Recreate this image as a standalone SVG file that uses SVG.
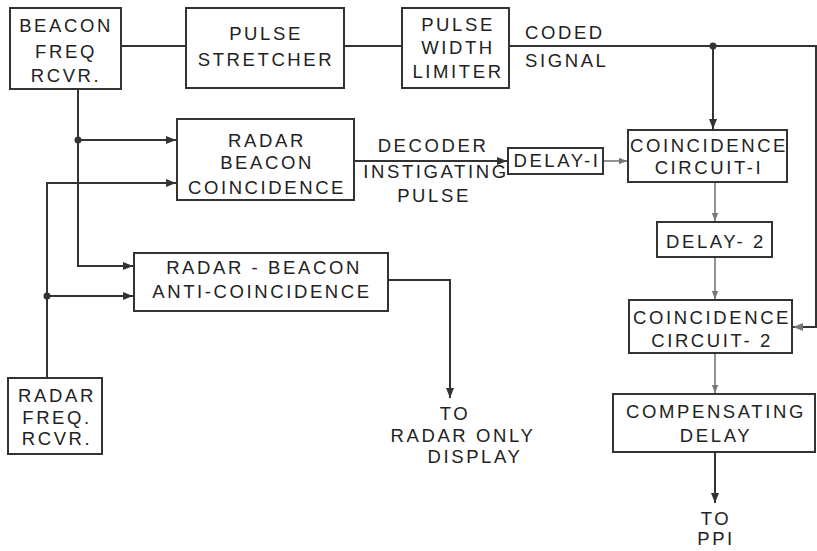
<svg xmlns="http://www.w3.org/2000/svg" width="817" height="551" viewBox="0 0 817 551">
<style>
.box{fill:#fff;stroke:#333;stroke-width:2}
.t{font-family:"Liberation Sans",Arial,sans-serif;font-size:18.5px;letter-spacing:2.6px;fill:#222;text-anchor:middle}
.l{text-anchor:start}
.c{fill:none;stroke:#333;stroke-width:2}
.f{stroke:#777;stroke-width:1.6}
</style>
<defs>
<marker id="a" viewBox="0 0 10 10" refX="10" refY="5" markerWidth="5" markerHeight="5" orient="auto" markerUnits="strokeWidth">
<path d="M0,1 L10,5 L0,9 Z" fill="#333"/>
</marker>
<marker id="g" viewBox="0 0 10 10" refX="10" refY="5" markerWidth="5" markerHeight="5" orient="auto" markerUnits="strokeWidth">
<path d="M0,1 L10,5 L0,9 Z" fill="#777"/>
</marker>
</defs>
<rect width="817" height="551" fill="#fff"/>
<g id="connectors">
<path class="c" d="M121,46 H186"/>
<path class="c" d="M344,46 H402"/>
<path class="c" d="M509,46 H816 V327 H793" marker-end="url(#g)"/>
<path class="c" d="M713,46 V129" marker-end="url(#a)"/>
<circle cx="713" cy="46" r="3.5" fill="#333"/>
<path class="c" d="M78,89 V266 H133" marker-end="url(#a)"/>
<path class="c" d="M78,140 H176" marker-end="url(#a)"/>
<circle cx="78" cy="140" r="3.5" fill="#333"/>
<path class="c" d="M47,378 V183 H176" marker-end="url(#a)"/>
<path class="c" d="M47,296 H133" marker-end="url(#a)"/>
<circle cx="47" cy="296" r="3.5" fill="#333"/>
<path class="c" d="M354,161 H507" marker-end="url(#a)"/>
<path class="c f" d="M603,161 H627" marker-end="url(#g)"/>
<path class="c" d="M388,280 H450 V398" marker-end="url(#a)"/>
<path class="c f" d="M715,182 V221" marker-end="url(#g)"/>
<path class="c f" d="M715,257 V299" marker-end="url(#g)"/>
<path class="c f" d="M715,353 V393" marker-end="url(#g)"/>
<path class="c" d="M715,452 V503" marker-end="url(#a)"/>
</g>
<g id="beacon-rcvr">
<rect class="box" x="10" y="8" width="111" height="81"/>
<text class="t" x="66" y="32">BEACON</text>
<text class="t" x="66" y="58">FREQ</text>
<text class="t" x="66" y="82">RCVR.</text>
</g>
<g id="pulse-stretcher">
<rect class="box" x="186" y="8" width="158" height="80"/>
<text class="t" x="266" y="40">PULSE</text>
<text class="t" x="266" y="66">STRETCHER</text>
</g>
<g id="pulse-width-limiter">
<rect class="box" x="402" y="8" width="107" height="80"/>
<text class="t" x="458" y="31">PULSE</text>
<text class="t" x="458" y="54">WIDTH</text>
<text class="t" x="458" y="78">LIMITER</text>
</g>
<g id="coded-signal-label">
<text class="t l" x="525" y="39">CODED</text>
<text class="t l" x="525" y="67">SIGNAL</text>
</g>
<g id="radar-beacon-coincidence">
<rect class="box" x="177" y="119" width="177" height="81"/>
<text class="t" x="267" y="147">RADAR</text>
<text class="t" x="267" y="169">BEACON</text>
<text class="t" x="267" y="194">COINCIDENCE</text>
</g>
<g id="decoder-label">
<text class="t" x="433" y="152">DECODER</text>
<text class="t" x="436" y="178">INSTIGATING</text>
<text class="t" x="434" y="202">PULSE</text>
</g>
<g id="delay-1">
<rect class="box" x="508" y="148" width="95" height="26"/>
<text class="t" x="557" y="167">DELAY-I</text>
</g>
<g id="coincidence-circuit-1">
<rect class="box" x="628" y="130" width="159" height="52"/>
<text class="t" x="709" y="152">COINCIDENCE</text>
<text class="t" x="709" y="174">CIRCUIT-I</text>
</g>
<g id="delay-2">
<rect class="box" x="657" y="222" width="115" height="35"/>
<text class="t" x="716" y="248">DELAY- 2</text>
</g>
<g id="coincidence-circuit-2">
<rect class="box" x="629" y="300" width="163" height="53"/>
<text class="t" x="712" y="324">COINCIDENCE</text>
<text class="t" x="712" y="347">CIRCUIT- 2</text>
</g>
<g id="compensating-delay">
<rect class="box" x="613" y="394" width="202" height="58"/>
<text class="t" x="716" y="418">COMPENSATING</text>
<text class="t" x="716" y="442">DELAY</text>
</g>
<g id="to-ppi">
<text class="t" x="716" y="525">TO</text>
<text class="t" x="716" y="545">PPI</text>
</g>
<g id="anti-coincidence">
<rect class="box" x="134" y="253" width="254" height="58"/>
<text class="t" x="264" y="274">RADAR - BEACON</text>
<text class="t" x="262" y="298">ANTI-COINCIDENCE</text>
</g>
<g id="radar-only-display">
<text class="t" x="455" y="420">TO</text>
<text class="t" x="463" y="442">RADAR ONLY</text>
<text class="t" x="475" y="463">DISPLAY</text>
</g>
<g id="radar-rcvr">
<rect class="box" x="8" y="378" width="94" height="76"/>
<text class="t" x="57" y="402">RADAR</text>
<text class="t" x="57" y="424">FREQ.</text>
<text class="t" x="57" y="445">RCVR.</text>
</g>
</svg>
